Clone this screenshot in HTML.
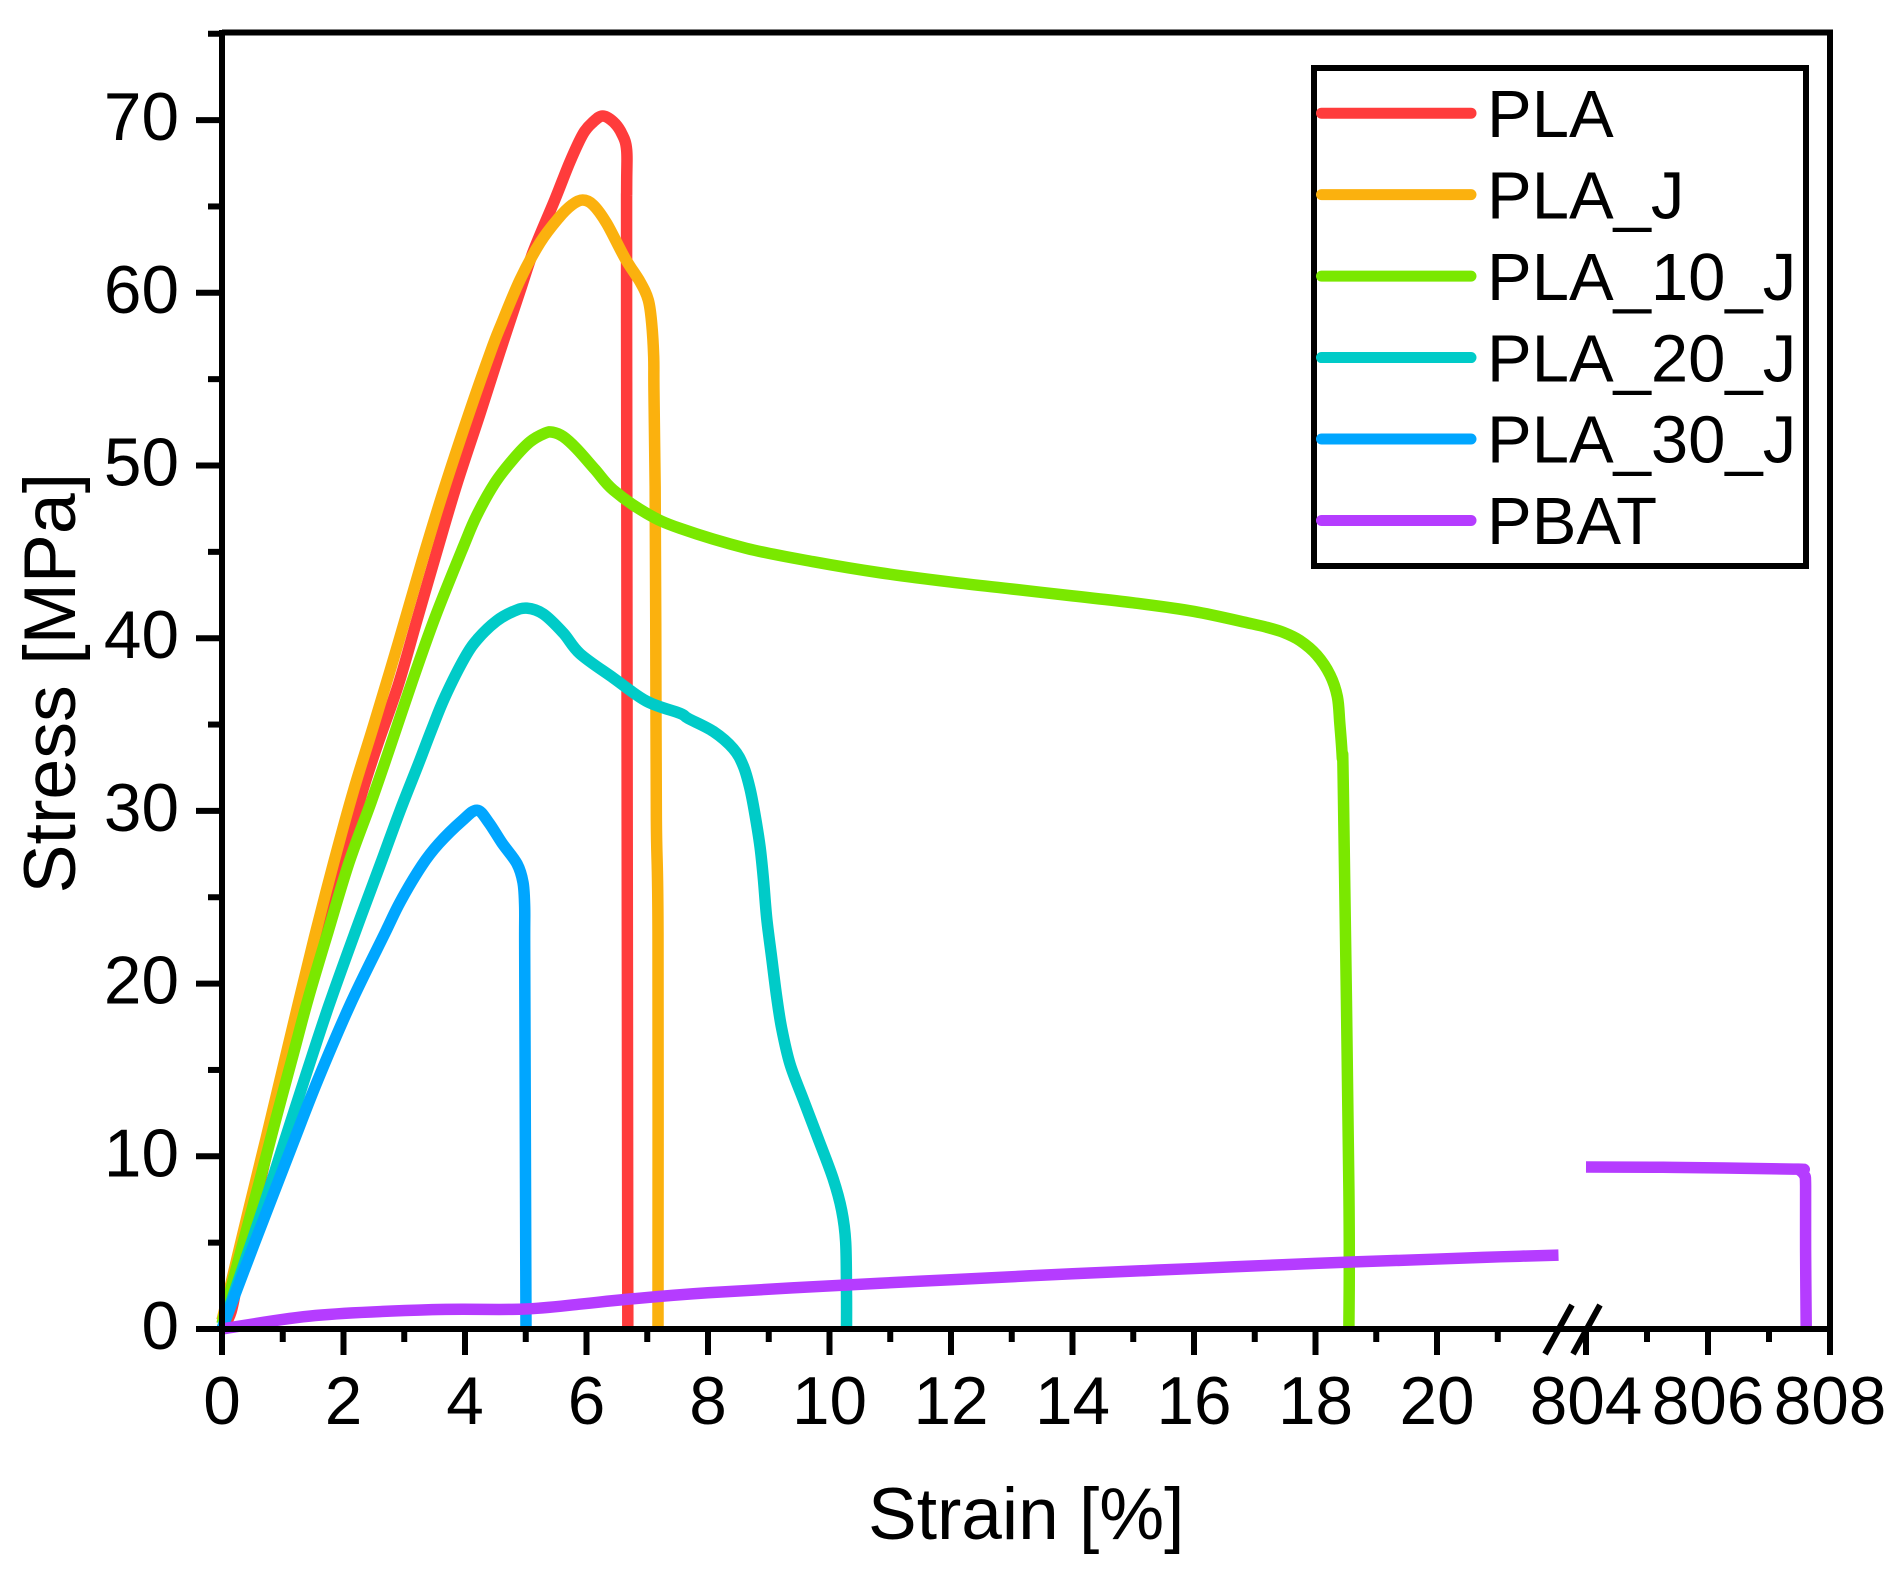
<!DOCTYPE html>
<html lang="en">
<head>
<meta charset="utf-8">
<title>Stress-strain curves</title>
<style>
html,body{margin:0;padding:0;background:#fff;}
svg{display:block;}
text{font-family:"Liberation Sans",Arial,sans-serif;fill:#000;}
</style>
</head>
<body>
<svg id="chart" xmlns="http://www.w3.org/2000/svg" width="1894" height="1574" viewBox="0 0 1894 1574">
<rect x="0" y="0" width="1894" height="1574" fill="#fff"/>
<g id="series-layer"></g>
<g id="axis-layer"></g>
<g id="legend-layer"></g>
</svg>
<script>
const seriesNames = ['PLA','PLA_J','PLA_10_J','PLA_20_J','PLA_30_J','PBAT'];
const seriesColors = ['#FF3C3C','#FBB10E','#7AE800','#00CBC8','#00A6FF','#B53CFF'];

const plaStrain = [0,0.15,0.3,0.77,1.04,1.32,1.62,1.948,2.3,2.557,2.902,3.205,3.534,3.863,4.247,4.576,4.905,5.125,5.48,5.728,5.948,6.112,6.267,6.442,6.579,6.661,6.661,6.66,6.68];
const plaStress = [0,1,3.5,10.69,14.68,18.67,22.66,26.64,31,33.8,37.3,41,45,48.9,53,56.6,60.1,62.4,65.4,67.59,69.23,69.9,70.24,69.9,69.23,68.27,66,58.25,0];

const plaJStrain = [0,0.14,0.439,0.73,0.988,1.246,1.52,1.838,2.167,2.5,2.9,3.287,3.643,4.055,4.423,4.6,4.905,5.235,5.536,5.756,5.937,6.112,6.332,6.634,6.881,7.017,7.073,7.106,7.11,7.13,7.14,7.15,7.177,7.177];
const plaJStress = [0.5,2.52,6.9,11.1,14.9,18.7,22.66,27,31.2,35,39.7,44.4,48.5,52.9,56.6,58.2,60.75,62.9,64.31,65.08,65.37,65.08,64.02,62,60.64,59.58,58.23,56.3,54.4,48.78,40.8,29.5,22.9,0];

const pla10Strain = [0,0.22,0.615,0.905,1.18,1.416,1.745,2.09,2.453,2.738,3.122,3.506,3.973,4.192,4.494,4.795,5.07,5.317,5.443,5.618,5.838,6.14,6.441,6.99,7.539,8.637,9.733,10.83,12,13,14,15,16,16.92,17.2,17.47,17.745,18.02,18.24,18.36,18.4,18.44,18.46,18.55,18.55];
const pla10Stress = [0.3,3.3,8.5,12.4,16,19.1,23,27,30.5,33.4,37.4,41.2,45.3,47.1,49,50.37,51.37,51.87,51.93,51.67,50.97,49.77,48.58,47.23,46.36,45.2,44.43,43.79,43.25,42.85,42.45,42.05,41.55,40.86,40.63,40.34,39.86,39.03,37.87,36.61,35.07,33.14,30.83,8,0];

const pla20Strain = [0,0.25,0.686,1.04,1.38,1.756,2.184,2.606,2.93,3.232,3.45,3.67,4,4.22,4.52,4.795,5.016,5.29,5.618,5.893,6.441,6.99,7.539,7.676,8.088,8.417,8.581,8.69,8.774,8.856,8.911,8.966,9.048,9.13,9.213,9.35,9.569,9.816,10.06,10.2,10.266,10.28,10.28];
const pla20Stress = [0,2.6,7.1,11,14.7,18.7,22.9,26.9,30,32.7,34.7,36.6,38.9,40,41,41.55,41.74,41.4,40.3,39.1,37.7,36.35,35.65,35.35,34.6,33.6,32.6,31.3,29.77,27.94,26.1,23.8,21.5,19.24,17.4,15.34,13.28,11,8.7,6.87,5.04,2,0];

const pla30Strain = [0,0.527,1.141,1.575,2.112,2.672,2.936,3.292,3.567,3.951,4.198,4.39,4.609,4.856,4.955,4.982,4.982,4.988,5.004];
const pla30Stress = [0,4.9,10.5,14.4,18.8,22.85,24.75,26.85,28.1,29.43,30.04,29.33,28.14,26.94,25.85,24.45,22.5,16.68,0];

const pbatLowStrain = [0,1.536,3.457,4.94,5.926,6.55,8,10.83,12,14,16,18,20,21.04,22];
const pbatLowStress = [0,0.78,1.12,1.15,1.45,1.68,2.1,2.65,2.85,3.2,3.5,3.8,4.05,4.18,4.28];
const pbatHighStrain = [804,805.4,807.4,807.5,807.58,807.6,807.6,807.61];
const pbatHighStress = [9.38,9.36,9.26,9.2,8.9,8.3,4.57,0];

const xTickMajorLow = [0,2,4,6,8,10,12,14,16,18,20];
const xTickMinorLow = [1,3,5,7,9,11,13,15,17,19,21];
const xTickMajorHigh = [804,806,808];
const xTickMinorHigh = [805,807];
const yTickMajor = [0,10,20,30,40,50,60,70];
const yTickMinor = [5,15,25,35,45,55,65,75];

const SVGNS = 'http://www.w3.org/2000/svg';
const seriesLayer = document.getElementById('series-layer');
const axisLayer = document.getElementById('axis-layer');
const legendLayer = document.getElementById('legend-layer');

function xPos(v){
  return v <= 22 ? 222 + v * 60.75 : 1586 + (v - 804) * 61;
}
function yPos(v){
  return 1329 - v * 17.27;
}
function makeLine(parent, x1, y1, x2, y2, width, color, cap){
  const el = document.createElementNS(SVGNS, 'line');
  el.setAttribute('x1', x1);
  el.setAttribute('y1', y1);
  el.setAttribute('x2', x2);
  el.setAttribute('y2', y2);
  el.setAttribute('stroke', color);
  el.setAttribute('stroke-width', width);
  el.setAttribute('stroke-linecap', cap || 'butt');
  parent.appendChild(el);
  return el;
}
function makeText(parent, str, x, y, size, anchor){
  const el = document.createElementNS(SVGNS, 'text');
  el.textContent = str;
  el.setAttribute('x', x);
  el.setAttribute('y', y);
  el.setAttribute('font-size', size);
  el.setAttribute('text-anchor', anchor);
  parent.appendChild(el);
  return el;
}
function makeCurve(xs, ys, color){
  const pts = xs.map(function(v, i){ return [xPos(v), yPos(ys[i])]; });
  let d = 'M' + pts[0][0].toFixed(2) + ' ' + pts[0][1].toFixed(2);
  for (let i = 0; i < pts.length - 1; i++) {
    const p0 = pts[Math.max(i - 1, 0)];
    const p1 = pts[i];
    const p2 = pts[i + 1];
    const p3 = pts[Math.min(i + 2, pts.length - 1)];
    const c1x = p1[0] + (p2[0] - p0[0]) / 6;
    const c1y = p1[1] + (p2[1] - p0[1]) / 6;
    const c2x = p2[0] - (p3[0] - p1[0]) / 6;
    const c2y = p2[1] - (p3[1] - p1[1]) / 6;
    d += 'C' + c1x.toFixed(2) + ' ' + c1y.toFixed(2) + ' ' + c2x.toFixed(2) + ' ' + c2y.toFixed(2) + ' ' + p2[0].toFixed(2) + ' ' + p2[1].toFixed(2);
  }
  const el = document.createElementNS(SVGNS, 'path');
  el.setAttribute('d', d);
  el.setAttribute('fill', 'none');
  el.setAttribute('stroke', color);
  el.setAttribute('stroke-width', 11.5);
  el.setAttribute('stroke-linejoin', 'round');
  el.setAttribute('stroke-linecap', 'butt');
  seriesLayer.appendChild(el);
  return el;
}

let curve;
curve = makeCurve(plaStrain, plaStress, seriesColors[0]);


curve = makeCurve(plaJStrain, plaJStress, seriesColors[1]);


curve = makeCurve(pla10Strain, pla10Stress, seriesColors[2]);


curve = makeCurve(pla20Strain, pla20Stress, seriesColors[3]);


curve = makeCurve(pla30Strain, pla30Stress, seriesColors[4]);


curve = makeCurve(pbatLowStrain, pbatLowStress, seriesColors[5]);


curve = makeCurve(pbatHighStrain, pbatHighStress, seriesColors[5]);



let item;
/* frame */
item = makeLine(axisLayer, 222, 30, 222, 1355, 6, '#000');


item = makeLine(axisLayer, 222, 1329, 1833, 1329, 6, '#000');


item = makeLine(axisLayer, 222, 32.5, 1833, 32.5, 6, '#000');


item = makeLine(axisLayer, 1830, 30, 1830, 1355, 6, '#000');



/* y ticks */
yTickMajor.forEach(function(v){
  const t = makeLine(axisLayer, 196, yPos(v), 222, yPos(v), 6, '#000');
  
  
  const l = makeText(axisLayer, String(v), 179, yPos(v) + 20, 67.5, 'end');
  
  
});
yTickMinor.forEach(function(v){
  const t = makeLine(axisLayer, 208, yPos(v), 222, yPos(v), 6, '#000');
  
  
});

/* x ticks */
xTickMajorLow.concat(xTickMajorHigh).forEach(function(v){
  const t = makeLine(axisLayer, xPos(v), 1329, xPos(v), 1355, 6, '#000');
  
  
  const l = makeText(axisLayer, String(v), xPos(v), 1424, 67.5, 'middle');
  
  
});
xTickMinorLow.concat(xTickMinorHigh).forEach(function(v){
  const t = makeLine(axisLayer, xPos(v), 1329, xPos(v), 1342, 6, '#000');
  
  
});

/* axis break */
item = makeLine(axisLayer, 1572, 1305, 1545, 1354, 6, '#000');


item = makeLine(axisLayer, 1600, 1305, 1573, 1354, 6, '#000');



/* titles */
item = makeText(axisLayer, 'Strain [%]', 868, 1539, 73, 'start');


item = makeText(axisLayer, 'Stress [MPa]', 0, 0, 73.5, 'start');
item.setAttribute('transform', 'translate(75 893.5) rotate(-90)');



/* legend */
const legendBox = document.createElementNS(SVGNS, 'rect');
legendBox.setAttribute('x', 1314);
legendBox.setAttribute('y', 68);
legendBox.setAttribute('width', 492);
legendBox.setAttribute('height', 498);
legendBox.setAttribute('fill', '#fff');
legendBox.setAttribute('stroke', '#000');
legendBox.setAttribute('stroke-width', 6);


legendLayer.appendChild(legendBox);

seriesNames.forEach(function(name, i){
  const rowY = 113.2 + i * 81.45;
  const swatch = makeLine(legendLayer, 1321.5, rowY, 1471, rowY, 11, seriesColors[i], 'round');
  
  
  const label = makeText(legendLayer, name, 1487, rowY + 23.7, 67, 'start');
  
  
});
</script>
</body>
</html>
